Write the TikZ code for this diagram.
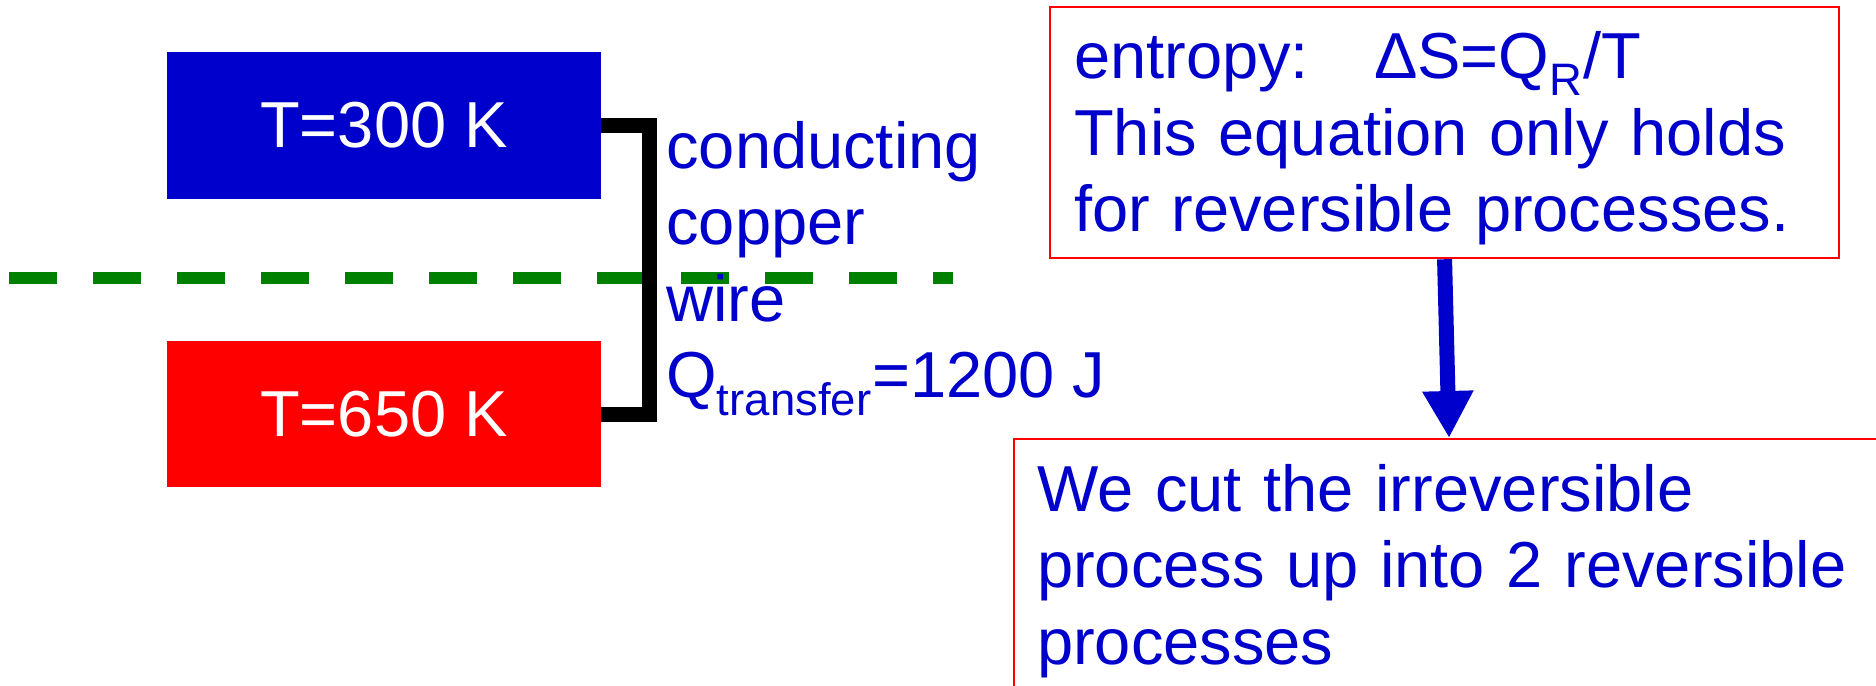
\documentclass[tikz,border=0pt]{standalone}
\usepackage{fontspec}
\setmainfont{Liberation Sans}
\usepackage{xcolor}
\usetikzlibrary{arrows.meta}

\definecolor{slideblue}{RGB}{0,0,204}
\definecolor{slidegreen}{RGB}{0,128,0}

\begin{document}
\begin{tikzpicture}[x=0.02cm, y=-0.02cm,
  every node/.style={font=\fontsize{37}{43.5}\selectfont},
  tempbox/.style={minimum width=8.67cm, minimum height=2.94cm, inner sep=0pt, text=white},
  note/.style={draw=red, line width=1.3pt, text=slideblue, align=left, anchor=north west},
  wire/.style={line width=0.3cm, line join=miter},
  flow/.style={-{Triangle[length=0.94cm, width=0.96cm]}, line width=0.3cm, slideblue}]
\useasboundingbox (0,0) rectangle (1876,686);

% the two reservoirs
\node[tempbox, fill=slideblue] (cold) at (384,125.5) {T=300 K};
\node[tempbox, fill=red] (hot) at (384,414) {T=650 K};

% dividing line
\draw[slidegreen, line width=0.24cm, dash pattern=on 0.96cm off 0.72cm] (9,278) -- (953,278);

% copper wire between them
\draw[wire] (cold.east) -- ++(48.5,0) |- (hot.east);
\node[anchor=north west, inner sep=0pt, align=left, text=slideblue] (wirelabel) at (666,121)
  {conducting\\copper\\wire\\Q\textsubscript{transfer}=1200 J};

% notes
\node[note, text width=14.82cm, inner xsep=0.48cm, inner ysep=0pt, minimum height=5.02cm] (rule) at (1049,6)
  {\rule{0pt}{1.18cm}entropy:\hspace{1em}ΔS=Q\textsubscript{R}/T\\This equation only holds\\for reversible processes.};
\node[note, text width=16.48cm, inner xsep=0.46cm, inner ysep=0.5cm] (cut) at (1013,438)
  {We cut the irreversible\\process up into 2 reversible\\processes};

\draw[flow] (rule.south) -- (cut.north);
\end{tikzpicture}
\end{document}
